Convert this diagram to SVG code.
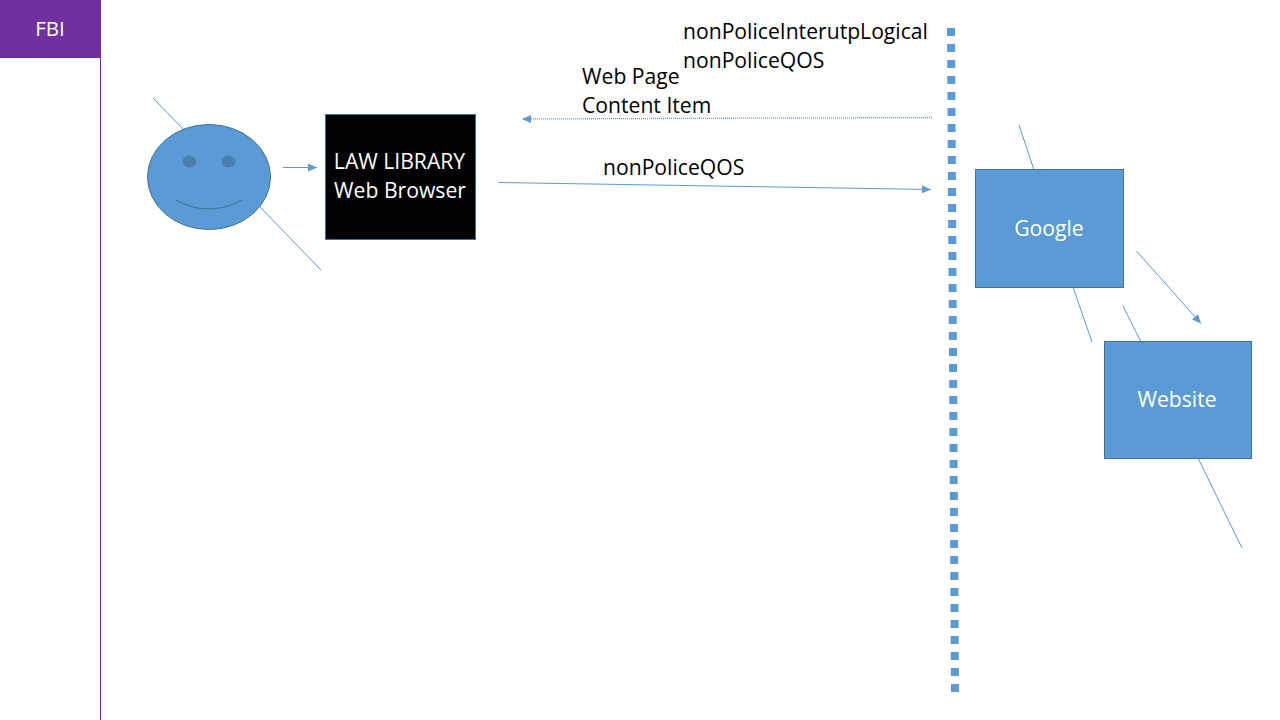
<svg xmlns="http://www.w3.org/2000/svg" width="1280" height="720" viewBox="0 0 1280 720">
<style>
text{font-family:"Open Sans","Noto Sans","Liberation Sans",sans-serif;font-size:21.15px;fill:#000}
.w{fill:#fff}
.m{text-anchor:middle}
.c{fill:none;stroke:#5b9bd5;stroke-width:1}
.b{fill:#5b9bd5;stroke:#41719c;stroke-width:1}
</style>
<defs>
<marker id="a" markerUnits="userSpaceOnUse" markerWidth="10" markerHeight="8" refX="9" refY="4" orient="auto"><path d="M0 0L9 4L0 8z" fill="#5b9bd5"/></marker>
</defs>
<rect width="1280" height="720" fill="#fff"/>
<g id="fbi">
<line x1="100.500" y1="57" x2="100.500" y2="720" stroke="#7030a0" stroke-width="1"/>
<rect x="0" y="0" width="101" height="58" fill="#7030a0"/>
<text class="w m" x="50" y="36" style="font-size:20.500px">FBI</text>
</g>
<g id="connectors">
<line class="c" x1="153" y1="98" x2="184" y2="130"/>
<line class="c" x1="260" y1="207" x2="321" y2="270"/>
<line class="c" x1="283" y1="167.500" x2="317" y2="167.500" marker-end="url(#a)"/>
<line class="c" x1="932" y1="117.500" x2="522" y2="119" stroke-dasharray="1 1" style="stroke-width:1.300" marker-end="url(#a)"/>
<line class="c" x1="498.500" y1="182.500" x2="931" y2="189.500" marker-end="url(#a)"/>
<line class="c" x1="1019" y1="125" x2="1034" y2="170"/>
<line class="c" x1="1073" y1="287" x2="1092" y2="342"/>
<line class="c" x1="1123" y1="306" x2="1141" y2="342"/>
<line class="c" x1="1136.500" y1="251" x2="1201" y2="323.500" marker-end="url(#a)"/>
<line class="c" x1="1198" y1="458" x2="1242" y2="548"/>
<line x1="951" y1="28" x2="955" y2="692" stroke="#5b9bd5" stroke-width="8" stroke-dasharray="8 8"/>
</g>
<g id="face">
<ellipse class="b" cx="209" cy="177" rx="61.500" ry="52.500"/>
<ellipse cx="189.500" cy="161.500" rx="6.500" ry="5.500" fill="#4a7eae" stroke="#4a7eae"/>
<ellipse cx="228.500" cy="161.500" rx="6.500" ry="5.500" fill="#4a7eae" stroke="#4a7eae"/>
<path d="M176 200Q209 218 242 200" fill="none" stroke="#41719c" stroke-width="1"/>
</g>
<g id="browser">
<rect x="325.500" y="114.500" width="150" height="125" fill="#000" stroke="#41719c"/>
<text class="w m" x="399.500" y="169">LAW LIBRARY</text>
<text class="w m" x="400" y="198">Web Browser</text>
</g>
<g id="google">
<rect class="b" x="975.500" y="169.500" width="148" height="118"/>
<text class="w m" x="1049" y="236">Google</text>
</g>
<g id="website">
<rect class="b" x="1104.500" y="341.500" width="147" height="117"/>
<text class="w m" x="1177" y="407">Website</text>
</g>
<g id="labels">
<text x="683" y="39">nonPoliceInterutpLogical</text>
<text x="683" y="68">nonPoliceQOS</text>
<text x="582" y="84">Web Page</text>
<text x="582" y="113">Content Item</text>
<text x="603" y="175">nonPoliceQOS</text>
</g>
</svg>
